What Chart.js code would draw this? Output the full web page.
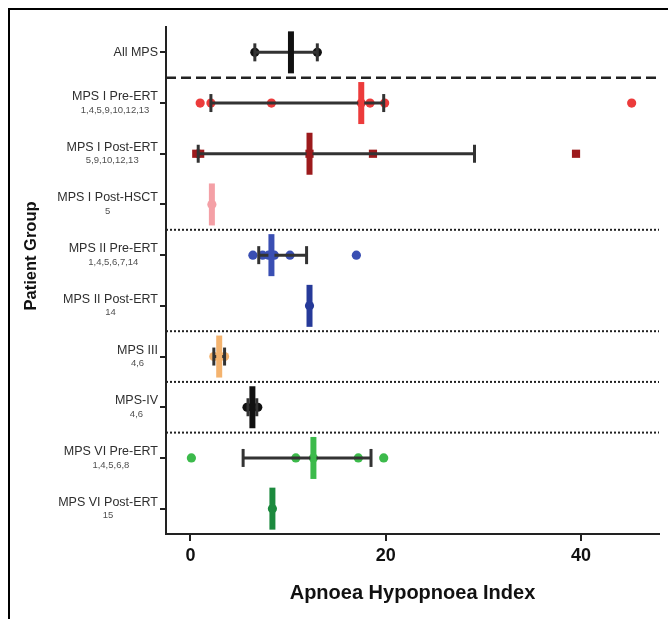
<!DOCTYPE html>
<html><head><meta charset="utf-8">
<script src="https://cdn.jsdelivr.net/npm/chart.js@4/dist/chart.umd.min.js"></script>
<style>
html,body{margin:0;padding:0;background:#fff;}
#wrap{position:relative;width:668px;height:619px;overflow:hidden;background:#fff;}
#frame{position:absolute;left:8px;top:8px;width:700px;height:700px;border-top:2px solid #000;border-left:2px solid #000;}
canvas{position:absolute;left:0;top:0;}
</style></head>
<body><div id="wrap"><div id="frame"></div><canvas id="c" width="668" height="619"></canvas></div>
<script>
// ---- data ----
const groups = ['All MPS','MPS I Pre-ERT','MPS I Post-ERT','MPS I Post-HSCT','MPS II Pre-ERT','MPS II Post-ERT','MPS III','MPS-IV','MPS VI Pre-ERT','MPS VI Post-ERT'];
const studyRefs = ['','1,4,5,9,10,12,13','5,9,10,12,13','5','1,4,5,6,7,14','14','4,6','4,6','1,4,5,6,8','15'];
const medians = [10.3, 17.5, 12.2, 2.2, 8.3, 12.2, 2.95, 6.35, 12.6, 8.4];
const whiskerLow = [6.6, 2.1, 0.8, null, 7.0, null, 2.4, 5.9, 5.4, null];
const whiskerHigh = [13.0, 19.8, 29.1, null, 11.9, null, 3.5, 6.8, 18.5, null];
const studyValues = [
  [6.6, 13.0],
  [1.0, 2.1, 8.3, 17.5, 18.4, 19.9, 45.2],
  [0.6, 1.0, 12.2, 18.7, 39.5],
  [2.2],
  [6.4, 7.4, 8.0, 8.6, 10.2, 17.0],
  [12.2],
  [2.4, 3.5],
  [5.8, 6.9],
  [0.1, 10.8, 12.6, 17.2, 19.8],
  [8.4]
];
const separatorRows = [0.5, 3.5, 5.5, 6.5, 7.5];
const xTickValues = [0, 20, 40];

// ---- styles ----
const groupColors = ['#111111','#ec3b3b','#9c1a1c','#f4a0a6','#3a4fb3','#263a99','#f4b36e','#111111','#3cba4b','#1c8a3e'];
const pointShapes = ['circle','circle','rect','circle','circle','circle','circle','circle','circle','circle'];
const FONT = '"Liberation Sans", Arial, Helvetica, sans-serif';
const X_MIN = -2.5, X_MAX = 48;

const datasets = [];
// medians (top)
datasets.push({
  data: medians.map((m, i) => ({x: m, y: i})),
  pointStyle: 'line', pointRotation: 90, pointRadius: 21, pointHoverRadius: 21,
  pointBorderWidth: 6, pointHoverBorderWidth: 6, pointBorderColor: groupColors, order: 0
});
// whiskers
groups.forEach((g, i) => {
  if (whiskerLow[i] == null) return;
  datasets.push({
    showLine: true,
    data: [{x: whiskerLow[i], y: i}, {x: whiskerHigh[i], y: i}],
    borderColor: '#333', borderWidth: 3,
    pointStyle: 'line', pointRotation: 90, pointRadius: 9, pointHoverRadius: 9,
    pointBorderWidth: 3, pointBorderColor: '#333', order: 1
  });
});
// study points
groups.forEach((g, i) => {
  datasets.push({
    data: studyValues[i].map(v => ({x: v, y: i})),
    pointStyle: pointShapes[i],
    pointRadius: pointShapes[i] === 'rect' ? 5.8 : 4.6,
    pointHoverRadius: pointShapes[i] === 'rect' ? 5.8 : 4.6,
    pointBackgroundColor: groupColors[i], pointBorderWidth: 0, order: 2
  });
});
// separators
separatorRows.forEach((s, k) => {
  datasets.push({
    showLine: true,
    data: [{x: X_MIN, y: s}, {x: X_MAX, y: s}],
    borderColor: '#222', borderWidth: k === 0 ? 2.5 : 2,
    borderDash: k === 0 ? [10, 5] : [2, 2],
    pointRadius: 0, order: 3
  });
});

const rowLabels = {
  id: 'rowLabels',
  afterDraw(chart) {
    const ctx = chart.ctx;
    const ys = chart.scales.y;
    const right = chart.chartArea.left - 8;
    groups.forEach((g, i) => {
      const py = ys.getPixelForValue(i);
      ctx.save();
      ctx.font = '12.5px ' + FONT;
      ctx.fillStyle = '#2e2e2e';
      ctx.textAlign = 'right';
      ctx.textBaseline = 'middle';
      if (studyRefs[i]) {
        ctx.fillText(g, right, py - 6.5);
        const w = ctx.measureText(g).width;
        ctx.font = '9.5px ' + FONT;
        ctx.fillStyle = '#505050';
        ctx.textAlign = 'center';
        ctx.fillText(studyRefs[i], right - w / 2, py + 7);
      } else {
        ctx.fillText(g, right, py);
      }
      ctx.restore();
    });
    ctx.save();
    ctx.translate(31, 256);
    ctx.rotate(-Math.PI / 2);
    ctx.font = 'bold 16.5px ' + FONT;
    ctx.fillStyle = '#111';
    ctx.textAlign = 'center';
    ctx.textBaseline = 'middle';
    ctx.fillText('Patient Group', 0, 0);
    ctx.restore();
  }
};

new Chart(document.getElementById('c'), {
  type: 'scatter',
  data: {datasets},
  options: {
    responsive: false, animation: false, devicePixelRatio: 1,
    layout: {autoPadding: false, padding: {left: 0, top: 27, right: 9, bottom: 0}},
    plugins: {legend: {display: false}, tooltip: {enabled: false}},
    events: [],
    scales: {
      x: {
        type: 'linear', min: X_MIN, max: X_MAX,
        afterBuildTicks: s => { s.ticks = xTickValues.map(v => ({value: v})); },
        ticks: {font: {family: FONT, size: 18, weight: 'bold'}, color: '#111', padding: 4},
        grid: {display: true, drawOnChartArea: false, drawTicks: true, tickLength: 7, color: '#222', lineWidth: 2},
        border: {display: true, color: '#222', width: 2},
        title: {display: true, text: 'Apnoea Hypopnoea Index', color: '#111',
                font: {family: FONT, size: 20, weight: 'bold'}, padding: {top: 0, bottom: 14}},
        afterFit: s => { s.height = 85; s.paddingLeft = 0; s.paddingRight = 0; }
      },
      y: {
        type: 'linear', reverse: true, min: -0.5, max: 9.5,
        afterBuildTicks: s => { s.ticks = groups.map((g, i) => ({value: i})); },
        ticks: {display: false},
        grid: {display: true, drawOnChartArea: false, drawTicks: true, tickLength: 6, color: '#222', lineWidth: 2},
        border: {display: true, color: '#222', width: 2},
        afterFit: s => { s.width = 166; s.paddingTop = 0; s.paddingBottom = 0; }
      }
    }
  },
  plugins: [rowLabels]
});
</script>
</body></html>
